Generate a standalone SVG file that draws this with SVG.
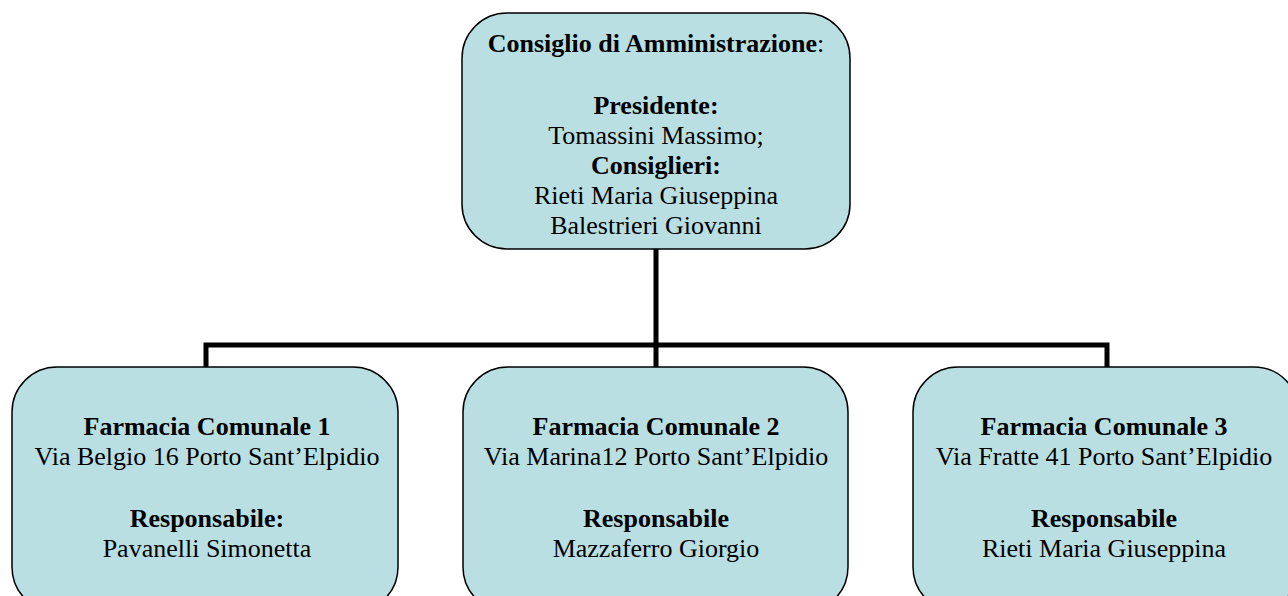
<svg xmlns="http://www.w3.org/2000/svg" width="1288" height="596" viewBox="0 0 1288 596">
<style>
.box{fill:#BADFE3;stroke:#000;stroke-width:1.5}
.conn{stroke:#000;stroke-width:5;fill:none;stroke-linecap:square}
text{font-family:"Liberation Serif","Times New Roman",serif;font-size:26px;fill:#000;text-anchor:middle}
.b{font-weight:bold}
</style>
<rect width="1288" height="596" fill="#fff"/>
<g id="connectors">
<path class="conn" d="M656 250 V345 M206 345 H1107 M206 345 V366 M656 345 V366 M1107 345 V366"/>
</g>
<g id="node-cda">
<rect class="box" x="462" y="13" width="388" height="236" rx="45"/>
<text x="656" y="52"><tspan class="b">Consiglio di Amministrazione</tspan>:</text>
<text x="656" y="114" class="b">Presidente:</text>
<text x="656" y="144">Tomassini Massimo;</text>
<text x="656" y="174" class="b">Consiglieri:</text>
<text x="656" y="204">Rieti Maria Giuseppina</text>
<text x="656" y="234">Balestrieri Giovanni</text>
</g>
<g id="node-f1">
<rect class="box" x="12" y="367" width="386" height="245" rx="45"/>
<text x="207" y="435" class="b">Farmacia Comunale 1</text>
<text x="207" y="465">Via Belgio 16 Porto Sant’Elpidio</text>
<text x="207" y="527" class="b">Responsabile:</text>
<text x="207" y="557">Pavanelli Simonetta</text>
</g>
<g id="node-f2">
<rect class="box" x="463" y="367" width="385" height="245" rx="45"/>
<text x="656" y="435" class="b">Farmacia Comunale 2</text>
<text x="656" y="465">Via Marina12 Porto Sant’Elpidio</text>
<text x="656" y="527" class="b">Responsabile</text>
<text x="656" y="557">Mazzaferro Giorgio</text>
</g>
<g id="node-f3">
<rect class="box" x="913" y="367" width="386" height="245" rx="45"/>
<text x="1104" y="435" class="b">Farmacia Comunale 3</text>
<text x="1104" y="465">Via Fratte 41 Porto Sant’Elpidio</text>
<text x="1104" y="527" class="b">Responsabile</text>
<text x="1104" y="557">Rieti Maria Giuseppina</text>
</g>
</svg>
